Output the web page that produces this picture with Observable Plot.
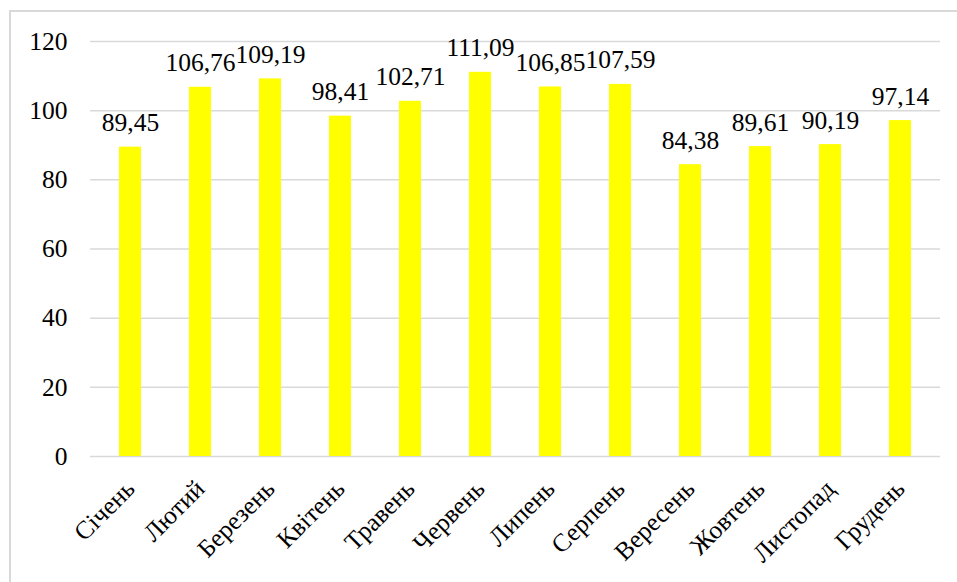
<!DOCTYPE html>
<html>
<head>
<meta charset="utf-8">
<script src="https://cdn.jsdelivr.net/npm/d3@7"></script>
<script src="https://cdn.jsdelivr.net/npm/@observablehq/plot@0.6"></script>
<style>
  html, body { margin: 0; padding: 0; background: #fff; overflow: hidden; }
  #wrap { position: relative; width: 957px; height: 582px; overflow: hidden; }
  #frame { position: absolute; left: 9px; top: 10px; width: 1000px; height: 700px; border: 2px solid #d9d9d9; box-sizing: border-box; pointer-events: none; }
  #chart { position: absolute; left: 0; top: 0; }
</style>
</head>
<body>
<div id="wrap"><div id="frame"></div><div id="chart"></div></div>
<script>
const months = ["Січень", "Лютий", "Березень", "Квітень", "Травень", "Червень", "Липень", "Серпень", "Вересень", "Жовтень", "Листопад", "Грудень"];
const values = [89.45, 106.76, 109.19, 98.41, 102.71, 111.09, 106.85, 107.59, 84.38, 89.61, 90.19, 97.14];
const yTicks = [0, 20, 40, 60, 80, 100, 120];

const data = months.map((m, i) => ({month: m, value: values[i]}));
const fmt = v => v.toFixed(2).replace(".", ",");

const chart = Plot.plot({
  width: 957,
  height: 582,
  marginLeft: 90,
  marginRight: 17,
  marginTop: 41,
  marginBottom: 126,
  style: {fontFamily: "Liberation Serif", fontSize: "25.5px", color: "#000", background: "transparent", overflow: "visible"},
  x: {domain: months, paddingInner: 0.68, paddingOuter: 0.34, label: null},
  y: {domain: [0, 120], label: null},
  marks: [
    Plot.ruleY(yTicks, {stroke: "#d9d9d9", strokeWidth: 1.5}),
    Plot.barY(data, {x: "month", y: "value", fill: "#ffff00"}),
    Plot.text(data, {x: "month", y: "value", text: d => fmt(d.value), dy: -16, lineAnchor: "bottom", fill: "#000"}),
    Plot.axisY({ticks: yTicks, tickSize: 0, tickPadding: 23, label: null, tickFormat: d => String(d)}),
    Plot.axisX({tickSize: 0, tickRotate: -45, tickPadding: 28, label: null})
  ]
});
document.getElementById("chart").appendChild(chart);
</script>
</body>
</html>
